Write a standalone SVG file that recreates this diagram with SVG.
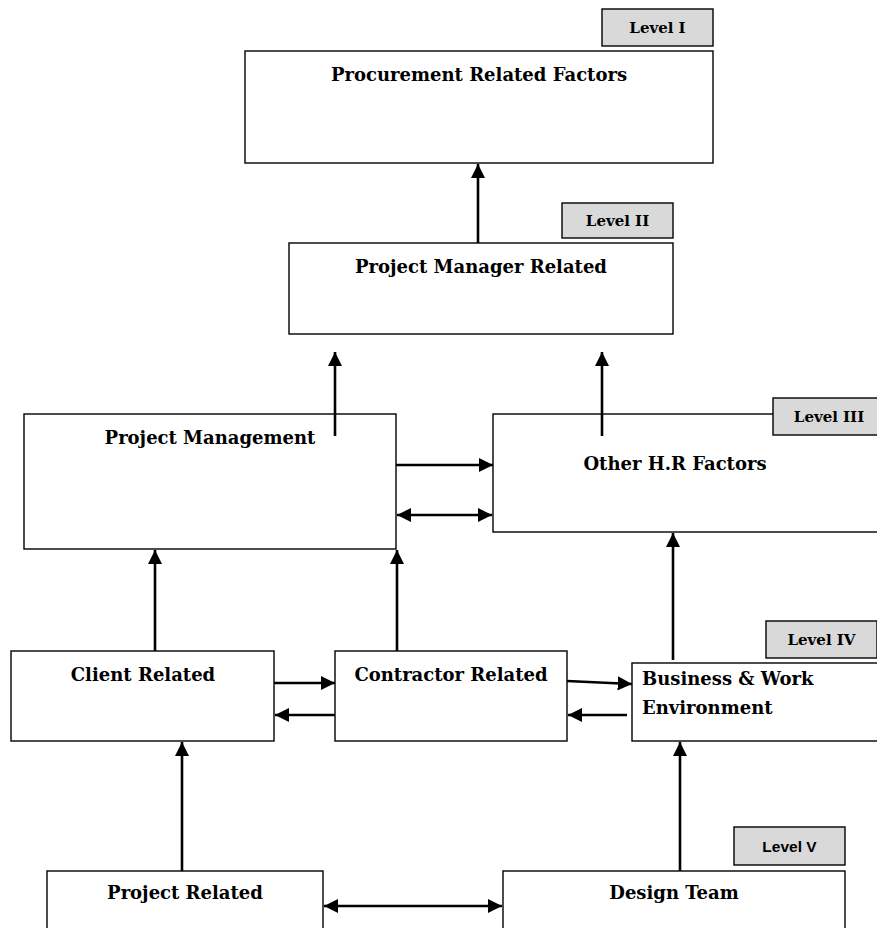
<svg xmlns="http://www.w3.org/2000/svg" width="877" height="928" viewBox="0 0 877 928">
<style>
.box{fill:#fff;stroke:#000;stroke-width:1.4}
.lvl{fill:#d9d9d9;stroke:#000;stroke-width:1.4}
.t{font-family:"DejaVu Serif","Liberation Serif",serif;font-weight:bold;font-size:18px;fill:#000}
.lt{font-family:"DejaVu Serif","Liberation Serif",serif;font-weight:bold;font-size:15px;fill:#000}
.ls{font-family:"Liberation Sans","Open Sans",sans-serif;font-weight:bold;font-size:15.5px;fill:#000}
.c{stroke:#000;stroke-width:2.6;fill:none}
</style>
<defs>
<marker id="ah" viewBox="0 0 10 10" refX="10" refY="5" markerWidth="5.5" markerHeight="5.5" orient="auto-start-reverse" markerUnits="strokeWidth">
<path d="M0,0 L10,5 L0,10 z" fill="#000"/>
</marker>
</defs>
<g id="level1"><rect class="lvl" x="602" y="9" width="111" height="37"/><text class="lt" x="657.5" y="33" text-anchor="middle">Level I</text></g>
<g id="procurement"><rect class="box" x="245" y="51" width="468" height="112"/><text class="t" x="479" y="81" text-anchor="middle">Procurement Related Factors</text></g>
<g id="level2"><rect class="lvl" x="562" y="203" width="111" height="35"/><text class="lt" x="617.5" y="226" text-anchor="middle">Level II</text></g>
<g id="pmrelated"><rect class="box" x="289" y="243" width="384" height="91"/><text class="t" x="481" y="273" text-anchor="middle">Project Manager Related</text></g>
<g id="projectmanagement"><rect class="box" x="24" y="414" width="372" height="135"/><text class="t" x="210" y="444" text-anchor="middle">Project Management</text></g>
<g id="otherhr"><rect class="box" x="493" y="414" width="390" height="118"/><text class="t" x="675" y="470" text-anchor="middle">Other H.R Factors</text></g>
<g id="level3"><rect class="lvl" x="773" y="398" width="110" height="37"/><text class="lt" x="829" y="422" text-anchor="middle">Level III</text></g>
<g id="level4"><rect class="lvl" x="766" y="621" width="111" height="37"/><text class="lt" x="821.5" y="645" text-anchor="middle">Level IV</text></g>
<g id="client"><rect class="box" x="11" y="651" width="263" height="90"/><text class="t" x="143" y="681" text-anchor="middle">Client Related</text></g>
<g id="contractor"><rect class="box" x="335" y="651" width="232" height="90"/><text class="t" x="451" y="681" text-anchor="middle">Contractor Related</text></g>
<g id="business"><rect class="box" x="632" y="663" width="252" height="78"/><text class="t" x="642" y="685">Business &amp; Work</text><text class="t" x="642" y="714">Environment</text></g>
<g id="level5"><rect class="lvl" x="734" y="827" width="111" height="38"/><text class="ls" x="789.5" y="852" text-anchor="middle">Level V</text></g>
<g id="projectrelated"><rect class="box" x="47" y="871" width="276" height="70"/><text class="t" x="185" y="899" text-anchor="middle">Project Related</text></g>
<g id="designteam"><rect class="box" x="503" y="871" width="342" height="70"/><text class="t" x="674" y="899" text-anchor="middle">Design Team</text></g>
<g id="connectors">
<line class="c" x1="478" y1="243" x2="478" y2="164" marker-end="url(#ah)"/>
<line class="c" x1="335" y1="436" x2="335" y2="352" marker-end="url(#ah)"/>
<line class="c" x1="602" y1="436" x2="602" y2="352" marker-end="url(#ah)"/>
<line class="c" x1="396" y1="465" x2="493" y2="465" marker-end="url(#ah)"/>
<line class="c" x1="397" y1="515" x2="492" y2="515" marker-start="url(#ah)" marker-end="url(#ah)"/>
<line class="c" x1="155" y1="651" x2="155" y2="550" marker-end="url(#ah)"/>
<line class="c" x1="397" y1="651" x2="397" y2="550" marker-end="url(#ah)"/>
<line class="c" x1="673" y1="660" x2="673" y2="533" marker-end="url(#ah)"/>
<line class="c" x1="274" y1="683" x2="335" y2="683" marker-end="url(#ah)"/>
<line class="c" x1="335" y1="715" x2="275" y2="715" marker-end="url(#ah)"/>
<line class="c" x1="567" y1="681" x2="632" y2="684" marker-end="url(#ah)"/>
<line class="c" x1="627" y1="715" x2="568" y2="715" marker-end="url(#ah)"/>
<line class="c" x1="182" y1="871" x2="182" y2="742" marker-end="url(#ah)"/>
<line class="c" x1="680" y1="871" x2="680" y2="742" marker-end="url(#ah)"/>
<line class="c" x1="324" y1="906" x2="502" y2="906" marker-start="url(#ah)" marker-end="url(#ah)"/>
</g>
</svg>
